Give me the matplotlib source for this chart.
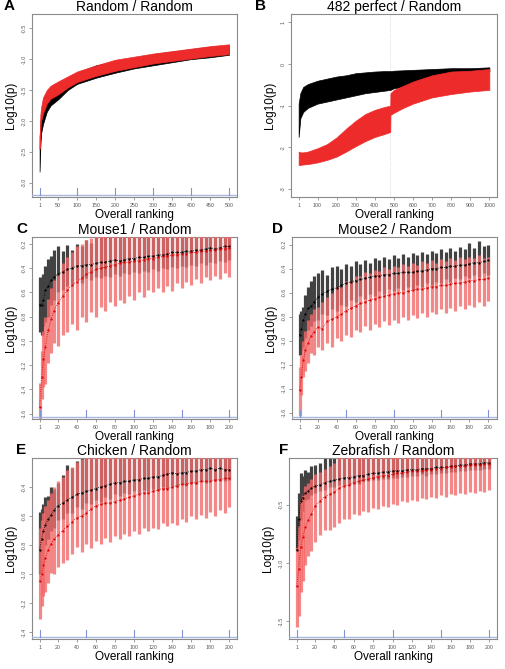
import numpy as np
import matplotlib
matplotlib.use('Agg')
import matplotlib.pyplot as plt

plt.rcParams['font.family'] = ['Liberation Sans', 'DejaVu Sans']

# ---------------- data ----------------
# Panel A: Random / Random (bands, lower / upper edges)
a_rank = [1, 3, 5, 10, 20, 30, 50, 75, 100, 150, 200, 250, 300, 350, 400, 450, 500]
a_black_lo = [-2.82, -2.40, -2.20, -2.05, -1.85, -1.75, -1.65, -1.50, -1.40, -1.30, -1.22, -1.15, -1.10, -1.05, -1.00, -0.97, -0.93]
a_black_hi = [-2.25, -2.05, -1.90, -1.78, -1.62, -1.52, -1.42, -1.32, -1.22, -1.10, -1.04, -0.98, -0.92, -0.88, -0.84, -0.80, -0.78]
a_red_lo = [-2.45, -2.15, -2.00, -1.88, -1.72, -1.64, -1.57, -1.46, -1.37, -1.27, -1.19, -1.13, -1.07, -1.03, -0.99, -0.95, -0.92]
a_red_hi = [-2.30, -1.90, -1.78, -1.62, -1.50, -1.43, -1.36, -1.28, -1.20, -1.10, -1.01, -0.96, -0.91, -0.87, -0.83, -0.79, -0.76]

# Panel B: 482 perfect / Random
b_rank = [1, 10, 25, 50, 100, 150, 200, 250, 300, 350, 400, 450, 481, 482, 500, 550, 600, 700, 800, 900, 1000]
b_black_lo = [-1.75, -1.30, -1.15, -1.05, -0.95, -0.90, -0.85, -0.80, -0.75, -0.70, -0.67, -0.64, -0.62, -0.62, -0.58, -0.55, -0.50, -0.40, -0.32, -0.25, -0.18]
b_black_hi = [-0.95, -0.70, -0.55, -0.48, -0.40, -0.35, -0.30, -0.27, -0.22, -0.20, -0.18, -0.17, -0.17, -0.17, -0.16, -0.15, -0.14, -0.12, -0.10, -0.10, -0.08]
b_red_lo = [-2.42, -2.42, -2.41, -2.40, -2.36, -2.30, -2.22, -2.10, -1.97, -1.85, -1.75, -1.68, -1.63, -1.22, -1.17, -1.05, -0.95, -0.80, -0.72, -0.66, -0.62]
b_red_hi = [-2.10, -2.12, -2.12, -2.10, -2.02, -1.92, -1.76, -1.55, -1.36, -1.20, -1.10, -1.03, -1.00, -0.70, -0.62, -0.52, -0.42, -0.27, -0.18, -0.16, -0.12]
b_cut = 482

# Panels C-F: ranks shared
rank = [1, 3, 5, 7, 10, 13, 16, 20, 25, 30, 35, 40, 45, 50, 55, 60, 65, 70, 75, 80, 85, 90,
        95, 100, 105, 110, 115, 120, 125, 130, 135, 140, 145, 150, 155, 160, 165, 170, 175,
        180, 185, 190, 195, 200]

# C: Mouse1 / Random
c_black = [-0.70, -0.70, -0.66, -0.58, -0.55, -0.50, -0.47, -0.45, -0.43, -0.41, -0.40, -0.38, -0.38, -0.37, -0.37, -0.36, -0.35, -0.35, -0.34, -0.33, -0.34, -0.33,
           -0.32, -0.32, -0.31, -0.31, -0.30, -0.30, -0.29, -0.29, -0.28, -0.27, -0.27, -0.27, -0.26, -0.26, -0.25, -0.25, -0.24, -0.23, -0.24, -0.23, -0.22, -0.22]
c_black_lo = [-0.93, -0.95, -0.88, -0.84, -0.80, -0.70, -0.66, -0.60, -0.58, -0.55, -0.53, -0.50, -0.52, -0.48, -0.50, -0.47, -0.48, -0.46, -0.47, -0.45, -0.46, -0.44,
              -0.45, -0.43, -0.44, -0.42, -0.43, -0.41, -0.42, -0.40, -0.41, -0.39, -0.40, -0.38, -0.39, -0.37, -0.38, -0.36, -0.37, -0.35, -0.36, -0.34, -0.35, -0.33]
c_black_hi = [-0.47, -0.48, -0.45, -0.38, -0.32, -0.30, -0.25, -0.22, -0.26, -0.21, -0.25, -0.20, -0.22, -0.17, -0.19, -0.14, -0.12, -0.12, -0.12, -0.12, -0.12, -0.12,
              -0.12, -0.12, -0.12, -0.12, -0.12, -0.12, -0.12, -0.12, -0.12, -0.12, -0.12, -0.12, -0.12, -0.12, -0.12, -0.12, -0.12, -0.12, -0.12, -0.12, -0.12, -0.12]
c_red = [-1.55, -1.30, -1.15, -1.05, -0.91, -0.82, -0.75, -0.69, -0.63, -0.58, -0.54, -0.51, -0.48, -0.45, -0.43, -0.41, -0.40, -0.39, -0.38, -0.37, -0.36, -0.35,
         -0.35, -0.34, -0.34, -0.33, -0.32, -0.32, -0.31, -0.30, -0.30, -0.29, -0.29, -0.28, -0.28, -0.27, -0.27, -0.26, -0.26, -0.25, -0.25, -0.24, -0.24, -0.23]
c_red_lo = [-1.70, -1.48, -1.38, -1.36, -1.18, -1.10, -1.02, -1.04, -0.95, -0.93, -0.86, -0.91, -0.80, -0.84, -0.76, -0.80, -0.72, -0.75, -0.68, -0.71, -0.66, -0.69,
            -0.63, -0.66, -0.60, -0.64, -0.58, -0.60, -0.56, -0.60, -0.55, -0.59, -0.52, -0.56, -0.51, -0.54, -0.49, -0.52, -0.47, -0.50, -0.46, -0.49, -0.44, -0.47]
c_red_hi = [-1.35, -1.08, -0.92, -0.80, -0.65, -0.56, -0.50, -0.45, -0.36, -0.31, -0.27, -0.22, -0.20, -0.17, -0.15, -0.12, -0.12, -0.12, -0.12, -0.12, -0.12, -0.12,
            -0.12, -0.12, -0.12, -0.12, -0.12, -0.12, -0.12, -0.12, -0.12, -0.12, -0.12, -0.12, -0.12, -0.12, -0.12, -0.12, -0.12, -0.12, -0.12, -0.12, -0.12, -0.12]

# D: Mouse2 / Random
d_black = [-0.95, -0.90, -0.83, -0.78, -0.73, -0.71, -0.68, -0.64, -0.61, -0.59, -0.57, -0.56, -0.54, -0.52, -0.51, -0.50, -0.49, -0.48, -0.47, -0.46, -0.46, -0.45,
           -0.45, -0.44, -0.44, -0.43, -0.43, -0.43, -0.42, -0.42, -0.41, -0.40, -0.40, -0.39, -0.39, -0.38, -0.38, -0.37, -0.37, -0.36, -0.35, -0.35, -0.34, -0.33]
d_black_lo = [-1.12, -1.08, -1.05, -0.98, -0.91, -0.88, -0.84, -0.83, -0.78, -0.79, -0.74, -0.75, -0.70, -0.71, -0.66, -0.68, -0.63, -0.65, -0.61, -0.63, -0.59, -0.61,
              -0.57, -0.59, -0.56, -0.58, -0.55, -0.57, -0.54, -0.55, -0.52, -0.54, -0.51, -0.52, -0.49, -0.51, -0.48, -0.49, -0.46, -0.48, -0.45, -0.47, -0.44, -0.45]
d_black_hi = [-0.78, -0.75, -0.72, -0.62, -0.55, -0.50, -0.46, -0.44, -0.41, -0.45, -0.39, -0.38, -0.40, -0.36, -0.38, -0.34, -0.36, -0.33, -0.35, -0.31, -0.33, -0.30,
              -0.32, -0.29, -0.31, -0.28, -0.30, -0.27, -0.29, -0.26, -0.28, -0.25, -0.27, -0.24, -0.26, -0.23, -0.25, -0.22, -0.24, -0.19, -0.23, -0.17, -0.21, -0.20]
d_red = [-1.41, -1.30, -1.16, -1.08, -1.02, -0.96, -0.93, -0.89, -0.90, -0.84, -0.82, -0.80, -0.78, -0.75, -0.73, -0.71, -0.69, -0.68, -0.66, -0.65, -0.64, -0.63,
         -0.62, -0.61, -0.60, -0.60, -0.59, -0.58, -0.57, -0.57, -0.56, -0.55, -0.55, -0.54, -0.54, -0.53, -0.52, -0.52, -0.51, -0.50, -0.50, -0.49, -0.49, -0.48]
d_red_lo = [-1.63, -1.45, -1.30, -1.25, -1.19, -1.10, -1.12, -1.05, -1.08, -1.02, -1.05, -0.98, -1.00, -0.95, -0.97, -0.91, -0.93, -0.88, -0.91, -0.86, -0.89, -0.84,
            -0.87, -0.83, -0.85, -0.80, -0.83, -0.79, -0.81, -0.77, -0.80, -0.76, -0.78, -0.74, -0.77, -0.73, -0.75, -0.71, -0.74, -0.70, -0.72, -0.68, -0.71, -0.67]
d_red_hi = [-1.22, -1.12, -1.00, -0.92, -0.83, -0.78, -0.74, -0.72, -0.68, -0.64, -0.60, -0.55, -0.55, -0.50, -0.50, -0.46, -0.46, -0.43, -0.44, -0.41, -0.42, -0.39,
            -0.40, -0.38, -0.39, -0.36, -0.38, -0.35, -0.37, -0.34, -0.35, -0.33, -0.35, -0.32, -0.34, -0.31, -0.33, -0.30, -0.32, -0.30, -0.31, -0.29, -0.31, -0.30]

# E: Chicken / Random
e_black = [-0.83, -0.76, -0.70, -0.66, -0.62, -0.59, -0.56, -0.53, -0.51, -0.49, -0.47, -0.45, -0.44, -0.43, -0.42, -0.41, -0.40, -0.39, -0.38, -0.37, -0.37, -0.36,
           -0.36, -0.35, -0.35, -0.34, -0.34, -0.33, -0.33, -0.32, -0.31, -0.30, -0.31, -0.30, -0.30, -0.29, -0.29, -0.28, -0.28, -0.27, -0.28, -0.27, -0.28, -0.28]
e_black_lo = [-1.00, -0.92, -0.85, -0.80, -0.76, -0.70, -0.68, -0.63, -0.62, -0.58, -0.58, -0.54, -0.55, -0.51, -0.52, -0.49, -0.50, -0.47, -0.48, -0.45, -0.46, -0.44,
              -0.45, -0.43, -0.44, -0.42, -0.43, -0.41, -0.42, -0.40, -0.41, -0.39, -0.40, -0.38, -0.39, -0.37, -0.38, -0.36, -0.37, -0.35, -0.36, -0.35, -0.36, -0.35]
e_black_hi = [-0.57, -0.55, -0.52, -0.47, -0.46, -0.40, -0.41, -0.37, -0.32, -0.25, -0.27, -0.22, -0.15, -0.15, -0.15, -0.15, -0.15, -0.15, -0.15, -0.15, -0.15, -0.15,
              -0.15, -0.15, -0.15, -0.15, -0.15, -0.15, -0.15, -0.15, -0.15, -0.15, -0.15, -0.15, -0.15, -0.15, -0.15, -0.15, -0.15, -0.15, -0.15, -0.15, -0.15, -0.15]
e_red = [-1.05, -1.00, -0.94, -0.89, -0.83, -0.79, -0.76, -0.73, -0.70, -0.67, -0.64, -0.61, -0.60, -0.58, -0.55, -0.53, -0.52, -0.51, -0.51, -0.50, -0.49, -0.48,
         -0.47, -0.46, -0.45, -0.44, -0.44, -0.43, -0.42, -0.41, -0.41, -0.40, -0.39, -0.38, -0.38, -0.37, -0.37, -0.36, -0.36, -0.36, -0.35, -0.35, -0.34, -0.34]
e_red_lo = [-1.31, -1.22, -1.15, -1.12, -1.06, -0.99, -1.00, -0.95, -0.92, -0.90, -0.86, -0.81, -0.85, -0.79, -0.82, -0.77, -0.79, -0.75, -0.78, -0.74, -0.76, -0.72,
            -0.74, -0.70, -0.72, -0.68, -0.70, -0.68, -0.69, -0.65, -0.67, -0.65, -0.66, -0.62, -0.64, -0.60, -0.62, -0.59, -0.61, -0.57, -0.60, -0.56, -0.58, -0.54]
e_red_hi = [-0.68, -0.63, -0.58, -0.53, -0.49, -0.44, -0.40, -0.36, -0.33, -0.28, -0.26, -0.23, -0.21, -0.15, -0.15, -0.15, -0.15, -0.15, -0.15, -0.15, -0.15, -0.15,
            -0.15, -0.15, -0.15, -0.15, -0.15, -0.15, -0.15, -0.15, -0.15, -0.15, -0.15, -0.15, -0.15, -0.15, -0.15, -0.15, -0.15, -0.15, -0.15, -0.15, -0.15, -0.15]

# F: Zebrafish / Random
f_black = [-0.89, -0.62, -0.47, -0.44, -0.40, -0.38, -0.36, -0.34, -0.33, -0.31, -0.30, -0.29, -0.28, -0.27, -0.27, -0.26, -0.25, -0.25, -0.24, -0.23, -0.23, -0.22,
           -0.22, -0.21, -0.21, -0.21, -0.20, -0.20, -0.20, -0.19, -0.19, -0.19, -0.18, -0.18, -0.18, -0.17, -0.17, -0.16, -0.16, -0.15, -0.15, -0.15, -0.14, -0.14]
f_black_lo = [-0.89, -0.80, -0.63, -0.55, -0.46, -0.45, -0.42, -0.40, -0.38, -0.37, -0.35, -0.35, -0.33, -0.33, -0.33, -0.31, -0.32, -0.30, -0.30, -0.29, -0.29, -0.28,
              -0.28, -0.27, -0.27, -0.26, -0.26, -0.25, -0.25, -0.24, -0.25, -0.24, -0.24, -0.23, -0.23, -0.22, -0.22, -0.21, -0.21, -0.20, -0.20, -0.20, -0.19, -0.19]
f_black_hi = [-0.60, -0.40, -0.23, -0.25, -0.20, -0.22, -0.17, -0.16, -0.14, -0.08, -0.08, -0.08, -0.08, -0.08, -0.08, -0.08, -0.08, -0.08, -0.08, -0.08, -0.08, -0.08,
              -0.08, -0.08, -0.08, -0.08, -0.08, -0.08, -0.08, -0.08, -0.08, -0.08, -0.08, -0.08, -0.08, -0.08, -0.08, -0.08, -0.08, -0.08, -0.08, -0.08, -0.08, -0.08]
f_red = [-1.20, -1.05, -0.86, -0.78, -0.69, -0.63, -0.58, -0.51, -0.47, -0.43, -0.41, -0.39, -0.36, -0.34, -0.33, -0.31, -0.30, -0.29, -0.28, -0.27, -0.26, -0.25,
         -0.25, -0.24, -0.23, -0.23, -0.22, -0.21, -0.21, -0.21, -0.20, -0.20, -0.19, -0.19, -0.18, -0.18, -0.17, -0.17, -0.17, -0.16, -0.16, -0.16, -0.15, -0.15]
f_red_lo = [-1.55, -1.45, -1.25, -1.15, -1.02, -0.94, -0.90, -0.82, -0.76, -0.72, -0.72, -0.69, -0.66, -0.62, -0.62, -0.58, -0.59, -0.55, -0.56, -0.53, -0.54, -0.51,
            -0.52, -0.49, -0.50, -0.47, -0.48, -0.46, -0.47, -0.44, -0.45, -0.43, -0.44, -0.42, -0.43, -0.41, -0.42, -0.40, -0.41, -0.39, -0.40, -0.38, -0.39, -0.37]
f_red_hi = [-0.86, -0.68, -0.46, -0.42, -0.34, -0.31, -0.28, -0.24, -0.22, -0.19, -0.17, -0.14, -0.08, -0.08, -0.08, -0.08, -0.08, -0.08, -0.08, -0.08, -0.08, -0.08,
            -0.08, -0.08, -0.08, -0.08, -0.08, -0.08, -0.08, -0.08, -0.08, -0.08, -0.08, -0.08, -0.08, -0.08, -0.08, -0.08, -0.08, -0.08, -0.08, -0.08, -0.08, -0.08]

# ---------------- figure ----------------
W, H = 505, 669
fig = plt.figure(figsize=(W / 100, H / 100), dpi=100)


def make_axes(left, right, top, bottom):
    return fig.add_axes([left / W, 1 - bottom / H, (right - left) / W, (bottom - top) / H])


def style_axes(ax, title, letter, lx, xlim, ylim, xticks, yticks, ylabels, blue_ticks=None):
    ax.set_xlim(*xlim)
    ax.set_ylim(*ylim)
    for s in ax.spines.values():
        s.set_color('#8a8a8a')
        s.set_linewidth(0.8)
    ax.set_xticks(xticks)
    ax.set_xticklabels([str(t) for t in xticks])
    ax.set_yticks(yticks)
    ax.set_yticklabels(ylabels, rotation=90, va='center')
    ax.tick_params(labelsize=3.8, labelcolor='#555555', color='#777777',
                   length=2, width=0.5, pad=2)
    ax.set_title(title, fontsize=10, pad=1)
    ax.set_xlabel('Overall ranking', fontsize=8.5, labelpad=1)
    ax.set_ylabel('Log10(p)', fontsize=8.5, labelpad=3)
    if blue_ticks is not None:
        # light blue axis line with ticks just inside the frame
        ax.plot([0, 1], [0.012, 0.012], transform=ax.transAxes, color='#aab8e0', lw=1.0, zorder=6)
        for bt in blue_ticks:
            ax.plot([bt, bt], [0.012, 0.05], transform=ax.get_xaxis_transform(),
                    color='#7f93d6', lw=0.8, zorder=6)
    pos = ax.get_position()
    fig.text(lx / W, pos.y1 + 0.002, letter, fontsize=11, fontweight='bold',
             ha='left', va='bottom')


def draw_bars(ax, x, mean_b, lo_b, hi_b, mean_r, lo_r, hi_r):
    ax.vlines(x, lo_b, hi_b, color='#424242', lw=2.3, zorder=2)
    ax.vlines(x, lo_r, hi_r, color='#f26a6a', lw=2.3, alpha=0.8, zorder=3)
    ax.plot(x, mean_b, ls=':', lw=0.6, color='black', marker='.', ms=1.2, zorder=5)
    ax.plot(x, mean_r, ls=':', lw=0.6, color='#e00000', marker='.', ms=1.2, zorder=5)


# Panel A
axA = make_axes(32, 237, 14, 197)
axA.fill_between(a_rank, a_black_lo, a_black_hi, color='black', lw=0.5, zorder=2)
axA.fill_between(a_rank, a_red_lo, a_red_hi, color='#ee2b2b', lw=0.5, zorder=3)
style_axes(axA, 'Random / Random', 'A', 4, (-19, 521), (-3.23, -0.27),
           [1, 50, 100, 150, 200, 250, 300, 350, 400, 450, 500],
           [-3.0, -2.5, -2.0, -1.5, -1.0, -0.5],
           ['-3.0', '-2.5', '-2.0', '-1.5', '-1.0', '-0.5'],
           blue_ticks=[1, 100, 200, 300, 400, 500])

# Panel B
axB = make_axes(291, 497, 14, 197)
axB.axvline(b_cut, color='#cccccc', ls=':', lw=0.6, zorder=1)
axB.fill_between(b_rank, b_black_lo, b_black_hi, color='black', lw=0.5, zorder=2)
axB.fill_between(b_rank, b_red_lo, b_red_hi, color='#ee2b2b', lw=0.5, zorder=3)
style_axes(axB, '482 perfect / Random', 'B', 255, (-39, 1040), (-3.19, 1.2),
           [1, 100, 200, 300, 400, 500, 600, 700, 800, 900, 1000],
           [-3, -2, -1, 0, 1], ['-3', '-2', '-1', '0', '1'])

x200 = [1, 20, 40, 60, 80, 100, 120, 140, 160, 180, 200]
blue200 = [1, 50, 100, 150, 200]

# Panel C
axC = make_axes(32, 237, 237, 419)
draw_bars(axC, rank, c_black, c_black_lo, c_black_hi, c_red, c_red_lo, c_red_hi)
style_axes(axC, 'Mouse1 / Random', 'C', 16, (-7, 208), (-1.645, -0.142), x200,
           [-1.6, -1.4, -1.2, -1.0, -0.8, -0.6, -0.4, -0.2],
           ['-1.6', '-1.4', '-1.2', '-1.0', '-0.8', '-0.6', '-0.4', '-0.2'],
           blue_ticks=blue200)

# Panel D
axD = make_axes(292, 497, 237, 419)
draw_bars(axD, rank, d_black, d_black_lo, d_black_hi, d_red, d_red_lo, d_red_hi)
style_axes(axD, 'Mouse2 / Random', 'D', 272, (-7, 209), (-1.653, -0.136), x200,
           [-1.6, -1.4, -1.2, -1.0, -0.8, -0.6, -0.4, -0.2],
           ['-1.6', '-1.4', '-1.2', '-1.0', '-0.8', '-0.6', '-0.4', '-0.2'],
           blue_ticks=blue200)

# Panel E
axE = make_axes(32, 237, 458, 639)
draw_bars(axE, rank, e_black, e_black_lo, e_black_hi, e_red, e_red_lo, e_red_hi)
style_axes(axE, 'Chicken / Random', 'E', 16, (-7, 208), (-1.446, -0.2), x200,
           [-1.4, -1.2, -1.0, -0.8, -0.6, -0.4],
           ['-1.4', '-1.2', '-1.0', '-0.8', '-0.6', '-0.4'],
           blue_ticks=blue200)

# Panel F
axF = make_axes(289, 497, 458, 639)
draw_bars(axF, rank, f_black, f_black_lo, f_black_hi, f_red, f_red_lo, f_red_hi)
style_axes(axF, 'Zebrafish / Random', 'F', 279, (-7, 208), (-1.65, -0.1), x200,
           [-1.5, -1.0, -0.5], ['-1.5', '-1.0', '-0.5'],
           blue_ticks=blue200)

fig.savefig('out.png', dpi=100)
